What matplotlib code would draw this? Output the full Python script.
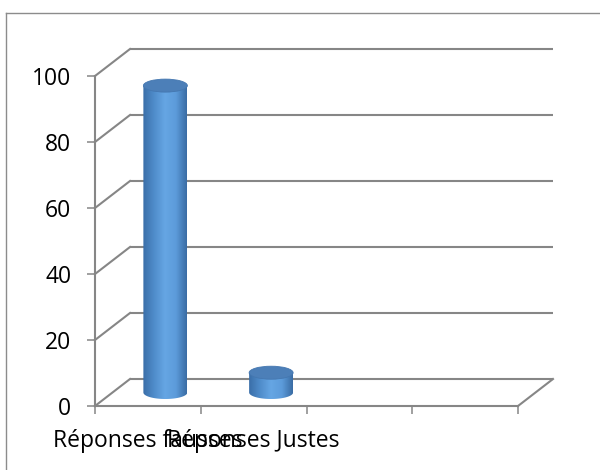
import matplotlib
matplotlib.use('Agg')
import matplotlib.pyplot as plt
import numpy as np
from matplotlib.lines import Line2D
from matplotlib.patches import Ellipse, Polygon
from matplotlib.colors import LinearSegmentedColormap
import matplotlib.transforms as mtransforms

plt.rcParams['font.family'] = ['Open Sans', 'DejaVu Sans']

categories = ['Réponses fausses', 'Réponses Justes']
values = [93, 6]
yticks = [0, 20, 40, 60, 80, 100]
n_slots = 4

grid_col = '#868686'
W, H = 600, 470

fig = plt.figure(figsize=(6, 4.7), dpi=100)
ax = fig.add_axes([95 / W, (H - 406) / H, (518 - 95) / W, (406 - 76) / H])
ax.set_xlim(0, n_slots)
ax.set_ylim(0, 100)
for s in ax.spines.values():
    s.set_visible(False)
ax.patch.set_visible(False)

# oblique depth offsets (pixels right / up)
dx, dy = 35, 27
back = ax.transData + mtransforms.ScaledTranslation(dx / 100, dy / 100, fig.dpi_scale_trans)
mid = ax.transData + mtransforms.ScaledTranslation(dx / 200, dy / 200, fig.dpi_scale_trans)

lw = 1.5
# back wall gridlines
for v in yticks:
    ax.plot([0, n_slots], [v, v], color=grid_col, lw=lw, transform=back,
            solid_capstyle='butt', clip_on=False)
# left wall diagonals + right floor edge
for x, v in [(0, v) for v in yticks] + [(n_slots, 0)]:
    p0 = ax.transData.transform((x, v))
    p1 = back.transform((x, v))
    fig.add_artist(Line2D([p0[0] / W, p1[0] / W], [p0[1] / H, p1[1] / H],
                          transform=fig.transFigure, color=grid_col, lw=lw))
# front axes lines
ax.plot([0, n_slots], [0, 0], color=grid_col, lw=lw, clip_on=False)
ax.plot([0, 0], [0, 100], color=grid_col, lw=lw, clip_on=False)

# cylinders
r = 0.208
ry = 6.5 / 3.3
cmap = LinearSegmentedColormap.from_list('cyl', ['#3a6ea8', '#4f8cca', '#66a6e4', '#5c9bda', '#3a6ca4'])
grad = np.linspace(0, 1, 256).reshape(1, -1)
for i, v in enumerate(values):
    c = i + 0.5
    t = np.linspace(np.pi, 2 * np.pi, 60)
    pts = [(c - r, v)] + list(zip(c + r * np.cos(t), ry * np.sin(t))) + [(c + r, v)]
    body = Polygon(pts, closed=True, transform=mid, facecolor='none', edgecolor='none',
                   clip_on=False)
    ax.add_patch(body)
    im = ax.imshow(grad, cmap=cmap, aspect='auto', extent=[c - r, c + r, -ry, v],
                   interpolation='bilinear', zorder=3)
    im.set_transform(mid)
    im.set_clip_path(body)
    top = Ellipse((c, v), 2 * r, 2 * ry, transform=mid, facecolor='#4c7fb8',
                  edgecolor='#4477b0', lw=0.6, zorder=4, clip_on=False)
    ax.add_patch(top)
ax.set_xlim(0, n_slots)
ax.set_ylim(0, 100)

# ticks
ax.set_xticks(range(n_slots + 1))
ax.set_xticklabels([])
ax.set_yticks(yticks)
ax.tick_params(axis='x', length=6, width=1.1, color=grid_col, direction='out')
ax.tick_params(axis='y', length=6, width=1.1, color=grid_col, direction='out',
               labelsize=16.5, pad=11, labelcolor='black')

for i, lab in enumerate(categories):
    ax.annotate(lab, xy=(i + 0.5, 0), xytext=(0, -29.5), textcoords='offset points',
                ha='center', va='baseline', fontsize=16.5, annotation_clip=False)

# chart border (top and left edges visible)
fig.add_artist(Line2D([6 / W, 1], [1 - 13 / H, 1 - 13 / H], transform=fig.transFigure,
                      color='#8c8c8c', lw=1.0))
fig.add_artist(Line2D([6 / W, 6 / W], [0, 1 - 13 / H], transform=fig.transFigure,
                      color='#8c8c8c', lw=1.0))

fig.savefig('out.png', dpi=100, facecolor='white')
